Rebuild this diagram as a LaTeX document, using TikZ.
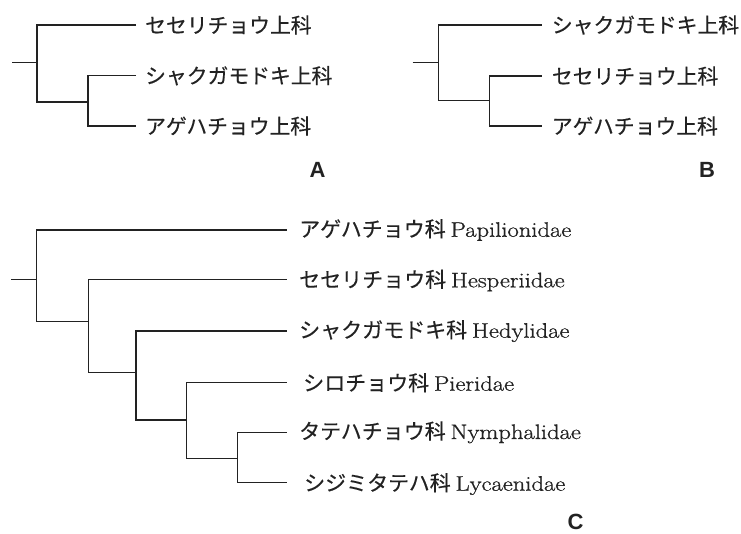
\documentclass[tikz,border=0pt]{standalone}
\usepackage{fontspec}
\usepackage{graphicx}
\newfontfamily\jpfont{Noto Sans CJK JP}[FakeBold=0.4]
\newfontfamily\lmfont{Latin Modern Roman}[FakeBold=0.8]
\newfontfamily\labfont{Liberation Sans}
\newcommand{\latn}[1]{\scalebox{1.17}[1]{\lmfont\fontsize{21}{23}\selectfont #1}}
\definecolor{ink}{HTML}{222222}
\begin{document}
\begin{tikzpicture}[x=1pt,y=-1pt,
  br/.style={draw=ink,line width=1.3pt},
  jpA/.style={anchor=west,inner sep=0pt,text=ink,font=\jpfont\fontsize{20.8}{24}\selectfont},
  jpC/.style={anchor=west,inner sep=0pt,text=ink,font=\jpfont\fontsize{21}{24}\selectfont},
  panel/.style={inner sep=0pt,text=ink,font=\labfont\bfseries\fontsize{22}{24}\selectfont}]
\useasboundingbox (0,0) rectangle (741,534);

% ---------------- Tree A ----------------
\coordinate (sA) at (12,62.7);
\coordinate (rA) at (37,102);
\coordinate (iA) at (88,102);
\coordinate (eA1) at (136,25);
\coordinate (eA2) at (136,75.7);
\coordinate (eA3) at (136,126);
\node[jpA] (tA1) at (145,25) {セセリチョウ上科};
\node[jpA] (tA2) at (145,75.7) {シャクガモドキ上科};
\node[jpA] (tA3) at (145,126) {アゲハチョウ上科};
\draw[br] (sA) -- (sA -| rA);
\draw[br] (eA1) -| (rA) -- (iA);
\draw[br] (eA2) -| (iA) |- (eA3);
\node[panel] (labA) at (317.5,170) {A};

% ---------------- Tree B ----------------
\coordinate (sB) at (412.7,62.7);
\coordinate (rB) at (438.3,100.7);
\coordinate (iB) at (489.3,100.7);
\coordinate (eB1) at (541.7,25);
\coordinate (eB2) at (541.7,76);
\coordinate (eB3) at (541.7,126);
\node[jpA] (tB1) at (551.7,25) {シャクガモドキ上科};
\node[jpA] (tB2) at (551.7,76) {セセリチョウ上科};
\node[jpA] (tB3) at (551.7,126) {アゲハチョウ上科};
\draw[br] (sB) -- (sB -| rB);
\draw[br] (eB1) -| (rB) -- (iB);
\draw[br] (eB2) -| (iB) |- (eB3);
\node[panel] (labB) at (707,170) {B};

% ---------------- Tree C ----------------
\coordinate (sC) at (11,279.3);
\coordinate (rC) at (36.7,321.7);
\coordinate (iC1) at (88.3,372.3);
\coordinate (iC2) at (136,420);
\coordinate (iC3) at (186.7,458.3);
\coordinate (iC4) at (237.7,482.7);
\coordinate (eC1) at (286.7,230);
\coordinate (eC2) at (286.7,279.3);
\coordinate (eC3) at (286.7,331);
\coordinate (eC4) at (286.7,382.7);
\coordinate (eC5) at (286.7,432.3);
\coordinate (eC6) at (286.7,482.7);
\draw[br] (sC) -- (sC -| rC);
\draw[br] (eC1) -| (rC) -- (rC -| iC1);
\draw[br] (eC2) -| (iC1) -- (iC1 -| iC2);
\draw[br] (eC3) -| (iC2) -- (iC2 -| iC3);
\draw[br] (eC4) -| (iC3) -- (iC3 -| iC4);
\draw[br] (eC5) -| (iC4) -- (eC6);
\node[jpC] (tC1) at (299,230) {アゲハチョウ科 \latn{Papilionidae}};
\node[jpC] (tC2) at (299,280.5) {セセリチョウ科 \latn{Hesperiidae}};
\node[jpC] (tC3) at (299,331) {シャクガモドキ科 \latn{Hedylidae}};
\node[jpC] (tC4) at (303,382.7) {シロチョウ科 \latn{Pieridae}};
\node[jpC] (tC5) at (299,432.3) {タテハチョウ科 \latn{Nymphalidae}};
\node[jpC] (tC6) at (304,484) {シジミタテハ科 \latn{Lycaenidae}};
\node[panel] (labC) at (575.5,522) {C};
\end{tikzpicture}
\end{document}
